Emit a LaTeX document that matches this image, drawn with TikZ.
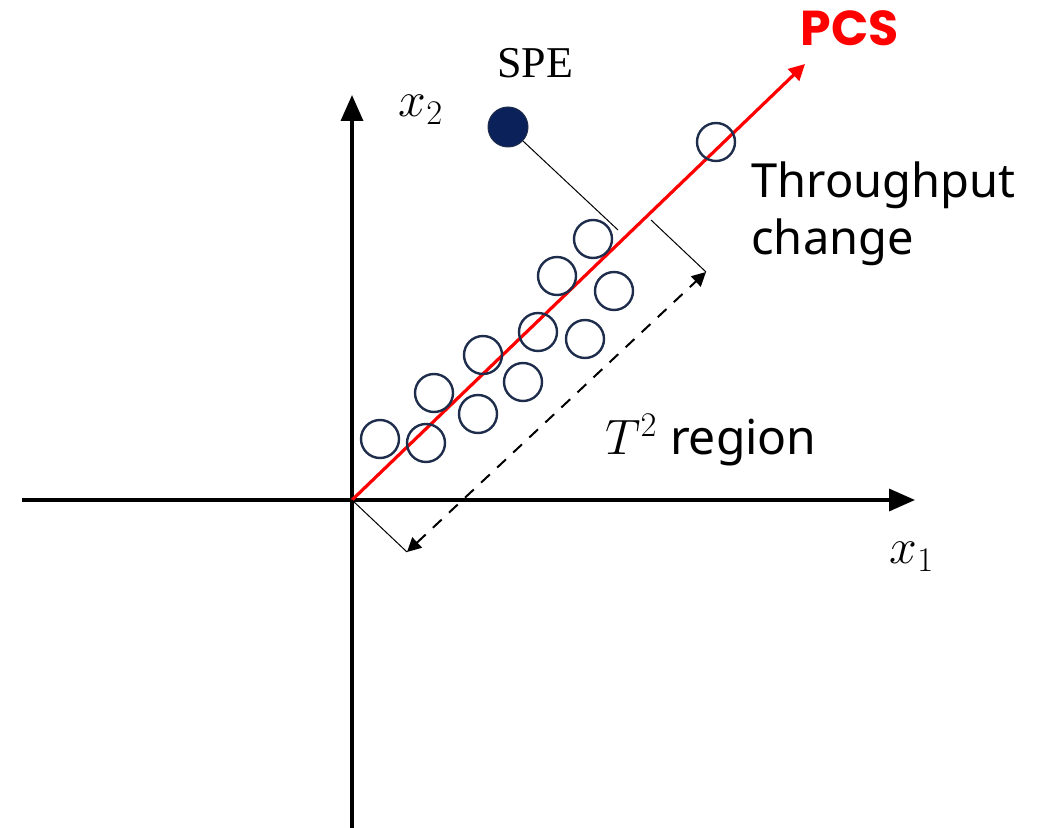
\documentclass[tikz,border=0pt]{standalone}
\usepackage{fontspec}
\setsansfont{Noto Sans}
\newfontfamily\pcsfont{Poppins}[UprightFont=* Bold]
\newfontfamily\spefont{Liberation Serif}
\usetikzlibrary{arrows.meta}
\definecolor{navy}{HTML}{1F2D4D}
\definecolor{dotnavy}{HTML}{0B2159}
\definecolor{pcsred}{HTML}{FF0000}
\begin{document}
\begin{tikzpicture}[x=0.5pt,y=-0.5pt,
  axis/.style={line width=1.75pt,-{Triangle[length=13pt,width=11pt]}},
  obs/.style={circle,draw=navy,line width=1.2pt,minimum size=19pt,inner sep=0pt},
  spedot/.style={circle,fill=dotnavy,draw=navy,line width=0.5pt,minimum size=20pt,inner sep=0pt},
  thin/.style={line width=0.5pt},
  mathlbl/.style={inner sep=0pt,font=\fontsize{24}{28}\selectfont},
  lbl/.style={font=\sffamily\fontsize{23.5}{28.5}\selectfont,inner sep=0pt}]
\useasboundingbox (0,0) rectangle (1048,828);
% axes
\coordinate (O) at (352,500);
\coordinate (xl) at (22,500);
\coordinate (xr) at (915,500);
\coordinate (yb) at (352,828);
\coordinate (yt) at (352,95);
\draw[axis] (xl) -- (xr);
\draw[axis] (yb) -- (yt);
% PCS line
\coordinate (P) at (805,64);
\draw[pcsred,line width=1.6pt,-{Triangle[length=8pt,width=8pt]}] (O) -- (P);
% observation circles
\node[obs] (c1) at (380,439) {};
\node[obs] (c2) at (426,443) {};
\node[obs] (c3) at (434,393) {};
\node[obs] (c4) at (478,414) {};
\node[obs] (c5) at (483,355) {};
\node[obs] (c6) at (523,382) {};
\node[obs] (c7) at (538,332) {};
\node[obs] (c8) at (585,339) {};
\node[obs] (c9) at (557,276) {};
\node[obs] (c10) at (614,291) {};
\node[obs] (c11) at (593,239) {};
\node[obs] (c12) at (716,142) {};
% SPE point
\node[spedot] (spe) at (508,127) {};
\coordinate (speend) at (618,230);
\draw[thin] (spe) -- (speend);
% T2 region dimension
\coordinate (ta) at (407,552);
\coordinate (tb) at (706,272);
\coordinate (tc) at (651,220);
\draw[thin] (O) -- (ta);
\draw[thin] (tc) -- (tb);
\draw[line width=1pt,dashed,dash pattern=on 6pt off 5pt,{Triangle[length=7pt,width=7pt]}-{Triangle[length=7pt,width=7pt]}] (ta) -- (tb);
% labels
\node[mathlbl] (x2) at (421,110) {$x_2$};
\node[mathlbl] (x1) at (912,557) {$x_1$};
\node[inner sep=0pt,font=\spefont\fontsize{22}{26}\selectfont] (spel) at (535,63) {SPE};
\node[inner sep=0pt,text=pcsred,font=\pcsfont\fontsize{24.5}{28}\selectfont] (pcs) at (850,28) {PCS};
\node[lbl,anchor=west,align=left] (tp) at (751,214) {Throughput\\change};
\node[lbl,font=\sffamily\fontsize{22.5}{28}\selectfont] (t2) at (711,440) {\fontsize{24}{28}\selectfont$T^2$ region};
\end{tikzpicture}
\end{document}
